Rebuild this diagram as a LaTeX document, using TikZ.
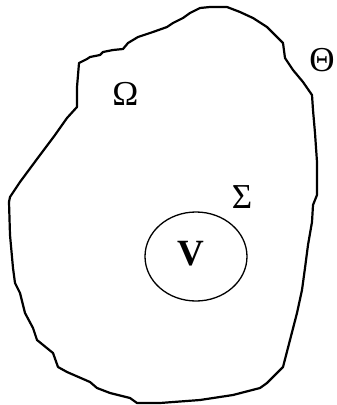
\documentclass[tikz,border=0pt]{standalone}
\usepackage{fontspec}
\setmainfont{Liberation Serif}

\tikzset{
  rim/.style={line width=2.2pt, line join=round, line cap=round},
  lbl/.style={inner sep=0pt, font=\fontsize{35}{38}\selectfont},
}

\begin{document}
\begin{tikzpicture}[x=1pt, y=-1pt]
    \useasboundingbox (0,0) rectangle (337,405);

    % Outer boundary (rough hand-drawn outline)
    \draw[rim] plot coordinates {
        (77,107) (77,87) (79,63) (87,59) (90,57) (100,55) (103,52) (113,50)
        (123,49) (128,43) (138,37) (153,32) (167,27) (173,23) (183,18) (190,13)
        (200,8) (210,7) (227,7) (240,12) (253,18) (267,27) (277,37) (283,43)
        (285,58) (293,70) (303,82) (312,95) (313,110) (315,133) (317,162)
        (317,195) (313,205) (312,222) (308,245) (305,268) (302,290) (297,313)
        (290,340) (283,367) (267,383) (260,388) (233,395) (200,400) (160,403)
        (137,403) (130,398) (110,393) (97,388) (90,382) (67,372) (58,367)
        (53,353) (37,340) (33,328) (25,313) (20,293) (15,283) (13,268)
        (10,235) (9,202) (10,197) (20,182) (40,155) (55,135) (67,118) (77,107)
    };

    % Inner region
    \draw[line width=1.3pt] (196,256.5) ellipse (51 and 44.5);

    % Labels
    \node[lbl] (omega) at (125.5,94) {Ω};
    \node[lbl] (theta) at (322,60) {Θ};
    \node[lbl] (sigma) at (242,197) {Σ};
    \node[lbl, font=\fontsize{37}{40}\selectfont\bfseries] (vol) at (191,254) {V};
\end{tikzpicture}
\end{document}
